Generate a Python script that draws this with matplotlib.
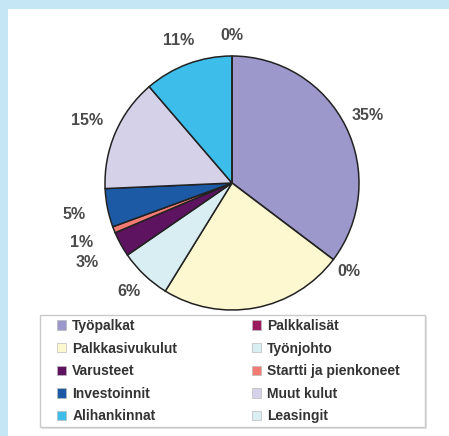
import numpy as np
import matplotlib.pyplot as plt
from matplotlib.patches import Rectangle

categories = ["Työpalkat", "Palkkalisät", "Palkkasivukulut", "Työnjohto",
              "Varusteet", "Startti ja pienkoneet", "Investoinnit",
              "Muut kulut", "Alihankinnat", "Leasingit"]
shares = [35.3, 0.0, 23.5, 6.6, 3.2, 0.8, 4.9, 14.4, 11.3, 0.0]
pct_labels = ["35%", "0%", "", "6%", "3%", "1%", "5%", "15%", "11%", "0%"]
colors = ["#9c98cc", "#9b1c5e", "#fdf8d0", "#d9eef3", "#5e1360",
          "#f27b74", "#1c5aa6", "#d5d1e9", "#3dbde9", "#d9eef3"]
# how far out each percent label sits (in pie radii), like the excel layout
label_dist = [1.19, 1.15, 1.2, 1.18, 1.3, 1.27, 1.27, 1.24, 1.2, 1.16]

W, H = 449, 436
plt.rcParams["font.family"] = ["Liberation Sans", "DejaVu Sans"]
fig = plt.figure(figsize=(W / 100, H / 100), dpi=100, facecolor="white")

# light blue frame on top and left
band = "#c4e6f5"
fig.patches.append(Rectangle((0, 1 - 9 / H), 1, 9 / H, transform=fig.transFigure,
                             facecolor=band, edgecolor="none", zorder=0))
fig.patches.append(Rectangle((0, 0), 8 / W, 1, transform=fig.transFigure,
                             facecolor=band, edgecolor="none", zorder=0))

cx, cy, r = 232, 183, 127
ax = fig.add_axes([(cx - r) / W, (H - cy - r) / H, 2 * r / W, 2 * r / H])
wedges, _ = ax.pie(shares, colors=colors, startangle=90, counterclock=False,
                   wedgeprops=dict(edgecolor="#222222", linewidth=1.1))
for w, lab, d in zip(wedges, pct_labels, label_dist):
    if not lab:
        continue
    mid = np.deg2rad((w.theta1 + w.theta2) / 2)
    ax.text(d * np.cos(mid), d * np.sin(mid), lab, ha="center", va="center",
            fontsize=11.5, fontweight="bold", color="#4a4a4a")
ax.set_xlim(-1, 1)
ax.set_ylim(-1, 1)
ax.set_aspect("equal")

# legend box with a soft shadow
x0, y0, x1, y1 = 40, 315, 425, 427
fig.patches.append(Rectangle(((x0 + 2) / W, (H - y1 - 2) / H), (x1 - x0) / W, (y1 - y0) / H,
                             transform=fig.transFigure, facecolor="#e4e4e4",
                             edgecolor="none", zorder=1))
fig.patches.append(Rectangle((x0 / W, (H - y1) / H), (x1 - x0) / W, (y1 - y0) / H,
                             transform=fig.transFigure, facecolor="white",
                             edgecolor="#cacaca", linewidth=1.0, zorder=2))

# excel fills the legend row by row, matplotlib column by column
order = list(range(0, 10, 2)) + list(range(1, 10, 2))
leg = fig.legend([wedges[i] for i in order], [categories[i] for i in order], ncol=2,
                 bbox_to_anchor=(57 / W, 1 - 319 / H), loc="upper left",
                 borderaxespad=0, borderpad=0, frameon=False,
                 prop=dict(size=10, weight="bold"), handlelength=0.65, handleheight=0.65,
                 handletextpad=0.45, labelspacing=0.62, columnspacing=5.35)
leg.set_zorder(3)
for t in leg.get_texts():
    t.set_color("#333333")
for h in leg.legend_handles:
    h.set_edgecolor("#bbbbbb")
    h.set_linewidth(0.5)

fig.savefig("out.png", dpi=100, facecolor="white")
